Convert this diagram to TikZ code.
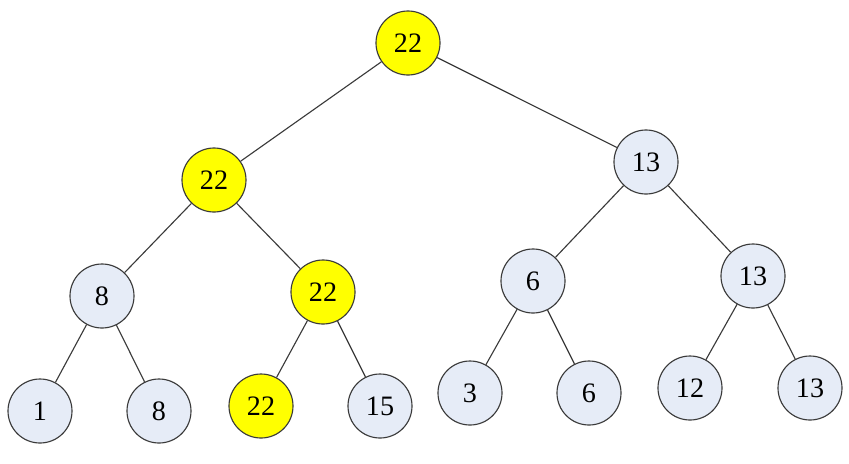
\documentclass[tikz,border=0pt]{standalone}
\usepackage{fontspec}
\setmainfont{Liberation Serif}
\usepackage{xcolor}
\usepackage{tikz}
\definecolor{nodeblue}{HTML}{E6ECF7}
\definecolor{nodeyellow}{HTML}{FFFF00}
\definecolor{edgegray}{HTML}{3A3A3A}

\begin{document}
\begin{tikzpicture}[
  x=0.025cm, y=-0.025cm,
  treenode/.style={circle, draw=edgegray, line width=0.8pt, fill=nodeblue,
                   minimum size=1.6cm, inner sep=0pt, font=\fontsize{20}{22}\selectfont},
  maxnode/.style={treenode, fill=nodeyellow},
  edge/.style={draw=edgegray, line width=0.8pt}
]
  \useasboundingbox (0,0) rectangle (849,463);
  \node[maxnode]  (root) at (408,43)  {22};
  \node[maxnode]  (l)    at (214,180) {22};
  \node[treenode] (r)    at (646,162) {13};
  \node[treenode] (ll)   at (102,296) {8};
  \node[maxnode]  (lr)   at (323,292) {22};
  \node[treenode] (rl)   at (533,281) {6};
  \node[treenode] (rr)   at (753,276) {13};
  \node[treenode] (lll)  at (40,411)  {1};
  \node[treenode] (llr)  at (159,411) {8};
  \node[maxnode]  (lrl)  at (261,406) {22};
  \node[treenode] (lrr)  at (380,406) {15};
  \node[treenode] (rll)  at (470,393) {3};
  \node[treenode] (rlr)  at (589,393) {6};
  \node[treenode] (rrl)  at (690,388) {12};
  \node[treenode] (rrr)  at (810,388) {13};
  \draw[edge] (root) -- (l);
  \draw[edge] (root) -- (r);
  \draw[edge] (l) -- (ll);
  \draw[edge] (l) -- (lr);
  \draw[edge] (r) -- (rl);
  \draw[edge] (r) -- (rr);
  \draw[edge] (ll) -- (lll);
  \draw[edge] (ll) -- (llr);
  \draw[edge] (lr) -- (lrl);
  \draw[edge] (lr) -- (lrr);
  \draw[edge] (rl) -- (rll);
  \draw[edge] (rl) -- (rlr);
  \draw[edge] (rr) -- (rrl);
  \draw[edge] (rr) -- (rrr);
\end{tikzpicture}
\end{document}
